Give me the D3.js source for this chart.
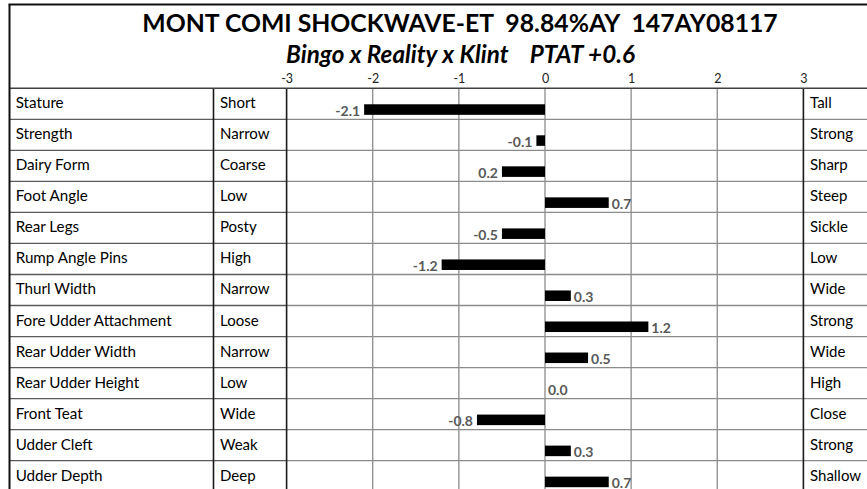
<!DOCTYPE html>
<html>
<head>
<meta charset="utf-8">
<script src="https://cdn.jsdelivr.net/npm/d3@7"></script>
<style>
  html, body { margin: 0; padding: 0; background: #fff; }
  svg { display: block; }
</style>
</head>
<body>
<svg id="chart" width="867" height="489"></svg>
<script>
const titleText = "MONT COMI SHOCKWAVE-ET\u00a0\u00a098.84%AY\u00a0\u00a0147AY08117";
const subtitleText = "Bingo x Reality x Klint\u00a0\u00a0\u00a0\u00a0PTAT +0.6";
const categories = ["Stature", "Strength", "Dairy Form", "Foot Angle", "Rear Legs", "Rump Angle Pins",
  "Thurl Width", "Fore Udder Attachment", "Rear Udder Width", "Rear Udder Height", "Front Teat",
  "Udder Cleft", "Udder Depth"];
const lowLabels = ["Short", "Narrow", "Coarse", "Low", "Posty", "High", "Narrow", "Loose", "Narrow",
  "Low", "Wide", "Weak", "Deep"];
const highLabels = ["Tall", "Strong", "Sharp", "Steep", "Sickle", "Low", "Wide", "Strong", "Wide",
  "High", "Close", "Strong", "Shallow"];
const values = [-2.1, -0.1, -0.5, 0.74, -0.5, -1.2, 0.3, 1.2, 0.5, 0.0, -0.79, 0.3, 0.74];
const valueLabels = ["-2.1", "-0.1", "0.2", "0.7", "-0.5", "-1.2", "0.3", "1.2", "0.5", "0.0", "-0.8", "0.3", "0.7"];
const tickValues = [-3, -2, -1, 0, 1, 2, 3];

const W = 867, H = 489;
const frameLeft = 9.5, frameTop = 4.5;
const col1Right = 213.5;
const tableTop = 88.3, rowH = 31.03;
const FONT = "Lato, 'Open Sans', sans-serif";

const svg = d3.select("#chart");

const x = d3.scaleLinear().domain([-3, 3]).range([286.6, 803.4]);
const y = d3.scaleBand().domain(categories).range([tableTop, tableTop + rowH * categories.length]).padding(0);
const tableBottom = tableTop + rowH * categories.length;

// Title & subtitle
function fitText(sel, target) {
  const w = sel.node().getComputedTextLength();
  const fs = parseFloat(sel.attr("font-size"));
  sel.attr("font-size", fs * target / w);
}
const title = svg.append("text")
  .attr("x", 460).attr("y", 31.7)
  .attr("text-anchor", "middle")
  .attr("font-family", FONT).attr("font-weight", "bold")
  .attr("font-size", 26).attr("fill", "#000")
  .text(titleText);
fitText(title, 636);
const sub = svg.append("text")
  .attr("x", 460.5).attr("y", 62.7)
  .attr("text-anchor", "middle")
  .attr("font-family", FONT).attr("font-weight", "bold").attr("font-style", "italic")
  .attr("font-size", 22).attr("fill", "#000")
  .text(subtitleText);
fitText(sub, 349);

// Horizontal row lines
const boundaries = d3.range(1, categories.length).map(i => y(categories[i]));
svg.append("g").selectAll("line.lab").data(boundaries).join("line")
  .attr("x1", frameLeft).attr("x2", x(-3))
  .attr("y1", d => d).attr("y2", d => d)
  .attr("stroke", "#5a5a5a").attr("stroke-width", 1.3);
svg.append("g").selectAll("line.grid").data(boundaries).join("line")
  .attr("x1", x(-3)).attr("x2", W)
  .attr("y1", d => d).attr("y2", d => d)
  .attr("stroke", "#8c8c8c").attr("stroke-width", 1.3);

// Vertical grid lines
svg.append("g").selectAll("line").data(tickValues.filter(t => t > -3 && t < 3)).join("line")
  .attr("x1", d => x(d)).attr("x2", d => x(d))
  .attr("y1", tableTop).attr("y2", tableBottom)
  .attr("stroke", "#8c8c8c").attr("stroke-width", 1.3);

// Column separators
[col1Right, x(-3), x(3)].forEach(cx => {
  svg.append("line")
    .attr("x1", cx).attr("x2", cx)
    .attr("y1", tableTop).attr("y2", tableBottom)
    .attr("stroke", "#1a1a1a").attr("stroke-width", 1.6);
});

// Header line (top of table)
svg.append("line")
  .attr("x1", frameLeft).attr("x2", W)
  .attr("y1", tableTop).attr("y2", tableTop)
  .attr("stroke", "#404040").attr("stroke-width", 1.4);

// Frame
svg.append("line").attr("x1", frameLeft - 1).attr("x2", W).attr("y1", frameTop).attr("y2", frameTop)
  .attr("stroke", "#111").attr("stroke-width", 2);
svg.append("line").attr("x1", frameLeft).attr("x2", frameLeft).attr("y1", frameTop).attr("y2", H)
  .attr("stroke", "#111").attr("stroke-width", 2);

// Axis tick labels
const axis = d3.axisTop(x).tickValues(tickValues).tickSize(0).tickPadding(5).tickFormat(d => String(d));
const gAxis = svg.append("g").attr("transform", `translate(0,${tableTop})`).call(axis);
gAxis.select(".domain").remove();
gAxis.selectAll("text")
  .attr("font-family", FONT).attr("font-size", 12.5).attr("fill", "#222")
  .attr("dy", "0");

// Table text
const textBase = 20;
svg.append("g").selectAll("text").data(categories).join("text")
  .attr("x", 15.7).attr("y", d => y(d) + textBase)
  .attr("font-family", FONT).attr("font-size", 15.2).attr("fill", "#000")
  .text(d => d);
svg.append("g").selectAll("text").data(lowLabels).join("text")
  .attr("x", 220).attr("y", (d, i) => y(categories[i]) + textBase)
  .attr("font-family", FONT).attr("font-size", 15).attr("fill", "#000")
  .text(d => d);
svg.append("g").selectAll("text").data(highLabels).join("text")
  .attr("x", 810).attr("y", (d, i) => y(categories[i]) + textBase)
  .attr("font-family", FONT).attr("font-size", 15).attr("fill", "#000")
  .text(d => d);

// Bars
const barTop = d => y(d) + y.bandwidth() * 0.515;
const barH = y.bandwidth() * 0.34;
const data = categories.map((c, i) => ({ c, v: values[i], label: valueLabels[i] }));
svg.append("g").selectAll("rect").data(data).join("rect")
  .attr("x", d => x(Math.min(0, d.v)))
  .attr("width", d => Math.abs(x(d.v) - x(0)))
  .attr("y", d => barTop(d.c))
  .attr("height", barH)
  .attr("fill", "#000");

// Value labels
svg.append("g").selectAll("text").data(data).join("text")
  .attr("x", d => d.v < 0 ? x(d.v) - 4 : x(d.v) + 3)
  .attr("y", d => barTop(d.c) + barH + 1)
  .attr("text-anchor", d => d.v < 0 ? "end" : "start")
  .attr("font-family", FONT).attr("font-weight", "bold").attr("font-size", 14)
  .attr("fill", "#595959")
  .text(d => d.label);
</script>
</body>
</html>
